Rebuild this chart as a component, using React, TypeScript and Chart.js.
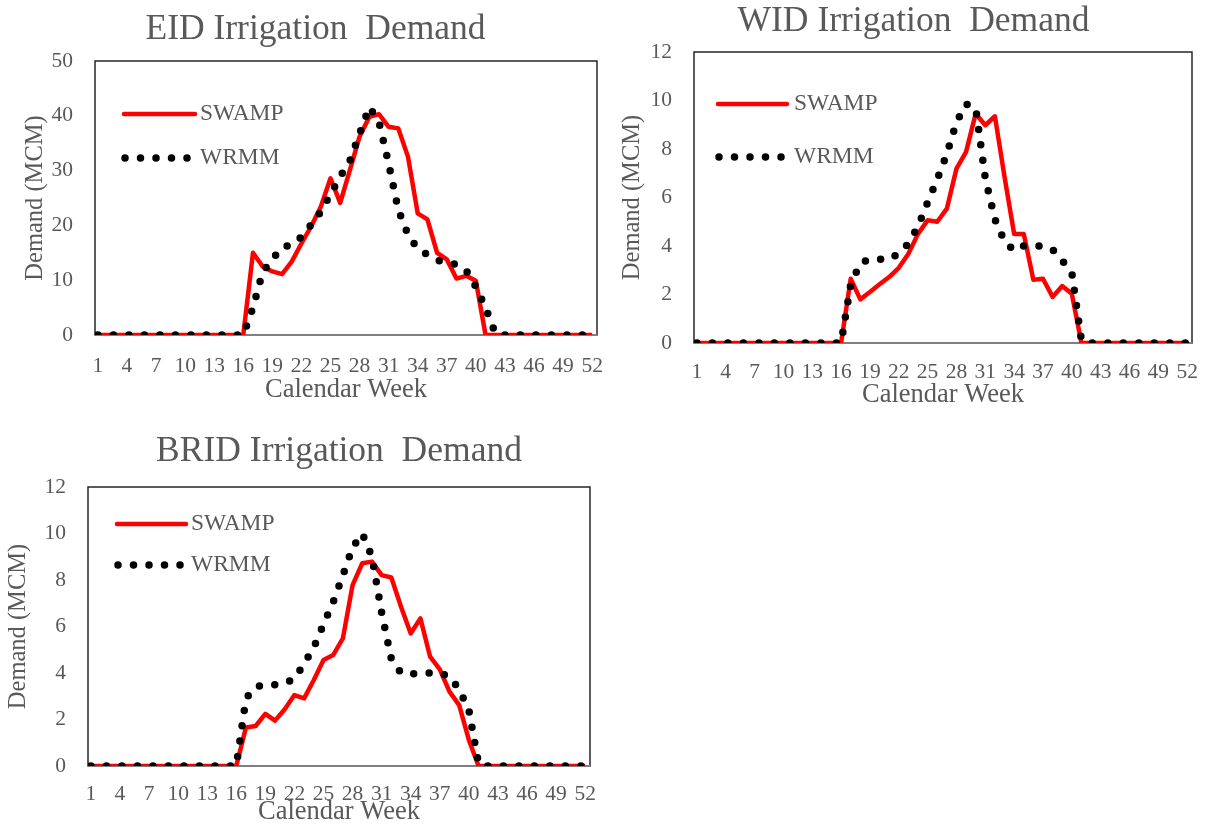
import React, { useEffect, useRef } from 'react';
import { Chart, registerables } from 'chart.js';

Chart.register(...registerables);

// ---------- data ----------
const weeks = [1, 2, 3, 4, 5, 6, 7, 8, 9, 10, 11, 12, 13, 14, 15, 16, 17, 18, 19, 20, 21, 22, 23, 24, 25, 26,
  27, 28, 29, 30, 31, 32, 33, 34, 35, 36, 37, 38, 39, 40, 41, 42, 43, 44, 45, 46, 47, 48, 49, 50, 51, 52];
const xTickValues = [1, 4, 7, 10, 13, 16, 19, 22, 25, 28, 31, 34, 37, 40, 43, 46, 49, 52];
const xTickLabels = ['1', '4', '7', '10', '13', '16', '19', '22', '25', '28', '31', '34', '37', '40', '43', '46', '49', '52'];

const seriesNames = ['SWAMP', 'WRMM'];

const eidSwamp = [0, 0, 0, 0, 0, 0, 0, 0, 0, 0, 0, 0, 0, 0, 0, 0,
  15.0, 12.5, 11.6, 11.1, 13.4, 16.7, 19.8, 23.4, 28.6, 24.1, 30.1, 36.2, 39.8, 40.3, 38.0, 37.7,
  32.5, 22.2, 21.1, 15.0, 13.8, 10.3, 10.8, 9.9, 0, 0, 0, 0, 0, 0, 0, 0, 0, 0, 0, 0];
const eidWrmm = [0, 0, 0, 0, 0, 0, 0, 0, 0, 0, 0, 0, 0, 0, 0, 0,
  5.0, 11.5, 13.8, 16.0, 16.5, 17.9, 20.1, 22.5, 25.7, 28.9, 31.8, 36.7, 41.6, 38.9, 31.3, 22.8,
  18.3, 15.7, 14.7, 13.7, 13.1, 12.9, 11.8, 8.8, 5.0, 0.3, 0, 0, 0, 0, 0, 0, 0, 0, 0, 0];

const widSwamp = [0, 0, 0, 0, 0, 0, 0, 0, 0, 0, 0, 0, 0, 0, 0, 0,
  2.65, 1.8, 2.1, 2.42, 2.72, 3.1, 3.68, 4.5, 5.06, 5.0, 5.54, 7.19, 7.88, 9.46, 8.98, 9.35,
  6.85, 4.5, 4.5, 2.61, 2.65, 1.9, 2.35, 2.03, 0, 0, 0, 0, 0, 0, 0, 0, 0, 0, 0, 0];
const widWrmm = [0, 0, 0, 0, 0, 0, 0, 0, 0, 0, 0, 0, 0, 0, 0, 0,
  2.4, 3.3, 3.45, 3.45, 3.45, 3.7, 4.1, 4.8, 5.8, 6.75, 7.8, 9.1, 9.85, 9.7, 6.8, 5.1,
  4.2, 3.8, 4.0, 4.0, 4.0, 3.85, 3.4, 2.9, 0.1, 0, 0, 0, 0, 0, 0, 0, 0, 0, 0, 0];

const bridSwamp = [0, 0, 0, 0, 0, 0, 0, 0, 0, 0, 0, 0, 0, 0, 0, 0,
  1.66, 1.72, 2.24, 1.95, 2.44, 3.05, 2.91, 3.7, 4.56, 4.77, 5.49, 7.78, 8.72, 8.79, 8.21, 8.11,
  6.85, 5.7, 6.35, 4.7, 4.16, 3.2, 2.62, 1.12, 0, 0, 0, 0, 0, 0, 0, 0, 0, 0, 0, 0];
const bridWrmm = [0, 0, 0, 0, 0, 0, 0, 0, 0, 0, 0, 0, 0, 0, 0, 0,
  2.9, 3.4, 3.5, 3.5, 3.55, 3.75, 4.4, 5.1, 6.1, 7.05, 8.2, 9.4, 10.0, 9.0, 6.6, 4.6,
  4.0, 3.95, 4.0, 4.0, 4.0, 3.85, 3.3, 2.4, 0.1, 0, 0, 0, 0, 0, 0, 0, 0, 0, 0, 0];

// ---------- styling / layout ----------
const SERIF = '"Liberation Serif", "Times New Roman", serif';
const GREY = '#595959';

type Spec = {
  title: string;
  swamp: number[];
  wrmm: number[];
  yMax: number;
  yStep: number;
  left: number; top: number; width: number; height: number;
  padLeft: number; padRight: number;
  yWidth: number; xHeight: number;
  titleFull: boolean;
  titlePadTop: number; titlePadBottom: number;
  xTickPad: number; xTitlePadBottom: number; yTitlePadTop: number;
  leg: { x0: number; x1: number; tx: number; y1: number; y2: number };
};

const specs: Spec[] = [
  {
    title: 'EID Irrigation  Demand', swamp: eidSwamp, wrmm: eidWrmm, yMax: 50, yStep: 10,
    left: 0, top: 0, width: 631, height: 410, padLeft: 34, padRight: 34, yWidth: 61, xHeight: 75,
    titleFull: true, titlePadTop: 8.2, titlePadBottom: 10.2, xTickPad: 18.6, xTitlePadBottom: 4.1, yTitlePadTop: -12.7,
    leg: { x0: 29, x1: 100, tx: 105, y1: 53, y2: 97 },
  },
  {
    title: 'WID Irrigation  Demand', swamp: widSwamp, wrmm: widWrmm, yMax: 12, yStep: 2,
    left: 600, top: 0, width: 630, height: 420, padLeft: 35, padRight: 38, yWidth: 59, xHeight: 77,
    titleFull: true, titlePadTop: 0.4, titlePadBottom: 9.0, xTickPad: 16.6, xTitlePadBottom: 9.1, yTitlePadTop: -17.2,
    leg: { x0: 24, x1: 93, tx: 100, y1: 52, y2: 105 },
  },
  {
    title: 'BRID Irrigation  Demand', swamp: bridSwamp, wrmm: bridWrmm, yMax: 12, yStep: 2,
    left: 0, top: 410, width: 668, height: 420, padLeft: 0, padRight: 78, yWidth: 88, xHeight: 64,
    titleFull: false, titlePadTop: 20.4, titlePadBottom: 14.0, xTickPad: 15.1, xTitlePadBottom: 2.1, yTitlePadTop: 4.3,
    leg: { x0: 29, x1: 98, tx: 103, y1: 37, y2: 78 },
  },
];

function makePlugin(spec: Spec) {
  return {
    id: 'boxAndLegend',
    beforeDatasetsDraw(chart: any) {
      const { ctx, chartArea: a } = chart;
      ctx.save();
      ctx.strokeStyle = '#262626';
      ctx.lineWidth = 1.5;
      ctx.strokeRect(a.left, a.top, a.right - a.left, a.bottom - a.top);
      ctx.strokeStyle = '#7f7f7f';
      ctx.lineWidth = 2;
      ctx.beginPath();
      ctx.moveTo(a.left, a.bottom);
      ctx.lineTo(a.right, a.bottom);
      ctx.stroke();
      ctx.restore();
    },
    afterDatasetsDraw(chart: any) {
      const { ctx, chartArea: a } = chart;
      const L = spec.leg;
      ctx.save();
      // SWAMP
      ctx.strokeStyle = '#FF0000';
      ctx.lineWidth = 4.5;
      ctx.lineCap = 'round';
      ctx.beginPath();
      ctx.moveTo(a.left + L.x0, a.top + L.y1);
      ctx.lineTo(a.left + L.x1, a.top + L.y1);
      ctx.stroke();
      // WRMM dots
      ctx.strokeStyle = '#000';
      ctx.lineWidth = 7.5;
      ctx.setLineDash([0, 15.5]);
      ctx.beginPath();
      ctx.moveTo(a.left + L.x0 + 1, a.top + L.y2);
      ctx.lineTo(a.left + L.x1 - 5, a.top + L.y2);
      ctx.stroke();
      ctx.setLineDash([]);
      ctx.fillStyle = GREY;
      ctx.font = `23.5px ${SERIF}`;
      ctx.textBaseline = 'middle';
      ctx.textAlign = 'left';
      ctx.fillText(seriesNames[0], a.left + L.tx, a.top + L.y1);
      ctx.fillText(seriesNames[1], a.left + L.tx, a.top + L.y2);
      ctx.restore();
    },
  };
}

function ChartBox({ spec }: { spec: Spec }) {
  const ref = useRef<HTMLCanvasElement | null>(null);
  useEffect(() => {
    if (!ref.current) return;
    const toPts = (vals: number[]) => weeks.map((w, i) => ({ x: w, y: vals[i] }));
    const chart = new Chart(ref.current, {
      type: 'line',
      data: {
        datasets: [
          {
            label: seriesNames[0], data: toPts(spec.swamp), borderColor: '#FF0000', backgroundColor: '#FF0000',
            borderWidth: 4.5, pointRadius: 0, tension: 0, order: 2, borderJoinStyle: 'round', fill: false,
          },
          {
            label: seriesNames[1], data: toPts(spec.wrmm), borderColor: '#000000', backgroundColor: '#000000',
            borderWidth: 7.5, borderDash: [0, 15.5], borderCapStyle: 'round', pointRadius: 0, tension: 0, order: 1, fill: false,
          },
        ] as any,
      },
      options: {
        responsive: false,
        animation: false,
        devicePixelRatio: 1,
        layout: { padding: { left: spec.padLeft, right: spec.padRight, top: 0, bottom: 0 } },
        plugins: {
          legend: { display: false },
          tooltip: { enabled: false },
          title: {
            display: true, text: spec.title, color: GREY, fullSize: spec.titleFull,
            font: { family: SERIF, size: 35.5, weight: 'normal' },
            padding: { top: spec.titlePadTop, bottom: spec.titlePadBottom },
          },
        },
        scales: {
          x: {
            type: 'linear', min: 0.7, max: 52.5,
            grid: { display: false, drawTicks: false },
            border: { display: false },
            ticks: {
              color: GREY, font: { family: SERIF, size: 21.5 }, padding: spec.xTickPad,
              autoSkip: false, maxRotation: 0, minRotation: 0,
              callback: (v: any) => {
                const i = xTickValues.indexOf(Number(v));
                return i >= 0 ? xTickLabels[i] : '';
              },
            },
            afterBuildTicks: (s: any) => { s.ticks = xTickValues.map((v) => ({ value: v })); },
            afterFit: (s: any) => { s.height = spec.xHeight; },
            title: {
              display: true, text: 'Calendar Week', color: GREY,
              font: { family: SERIF, size: 26.5 }, padding: { top: 0, bottom: spec.xTitlePadBottom },
            },
          },
          y: {
            min: 0, max: spec.yMax,
            grid: { display: false, drawTicks: false },
            border: { display: false },
            ticks: { stepSize: spec.yStep, color: GREY, font: { family: SERIF, size: 21.5 }, padding: 22 },
            afterFit: (s: any) => { s.width = spec.yWidth; },
            title: {
              display: true, text: 'Demand (MCM)', color: GREY,
              font: { family: SERIF, size: 24.5 }, padding: { top: spec.yTitlePadTop, bottom: 0 },
            },
          },
        },
      } as any,
      plugins: [makePlugin(spec)],
    });
    return () => chart.destroy();
  }, [spec]);
  return (
    <canvas
      ref={ref}
      width={spec.width}
      height={spec.height}
      style={{ position: 'absolute', left: spec.left, top: spec.top, width: spec.width, height: spec.height }}
    />
  );
}

export default function App() {
  return (
    <div style={{ position: 'absolute', left: 0, top: 0, width: 1206, height: 825, overflow: 'hidden', background: '#ffffff' }}>
      {specs.map((s) => (
        <ChartBox key={s.title} spec={s} />
      ))}
    </div>
  );
}
